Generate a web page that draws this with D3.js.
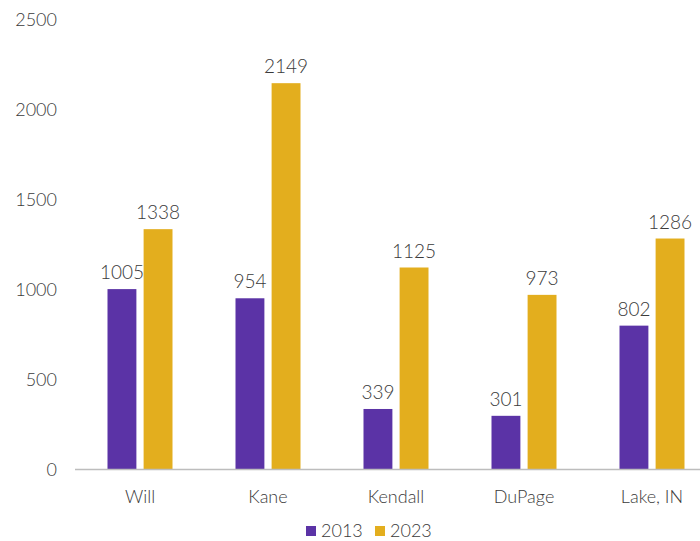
<!DOCTYPE html>
<html>
<head>
<meta charset="utf-8">
<script src="https://cdn.jsdelivr.net/npm/d3@7/dist/d3.min.js"></script>
<style>
  html, body { margin: 0; padding: 0; background: #fff; }
  svg text { font-family: Lato, "Open Sans", sans-serif; font-weight: 300; fill: #3a3a3a; }
</style>
</head>
<body>
<svg id="chart" width="700" height="541"></svg>
<script>
const categories = ["Will", "Kane", "Kendall", "DuPage", "Lake, IN"];
const seriesNames = ["2013", "2023"];
const values2013 = [1005, 954, 339, 301, 802];
const values2023 = [1338, 2149, 1125, 973, 1286];
const yTicks = [0, 500, 1000, 1500, 2000, 2500];
const colors = ["#5b33a6", "#e3ae1e"];

const svg = d3.select("#chart");
const margin = { left: 76, right: -16, top: 20, bottom: 71 };
const W = 700, H = 541;

const x = d3.scaleBand().domain(categories).range([margin.left, W - margin.right]).paddingInner(0).paddingOuter(0);
const x1 = d3.scaleBand().domain(seriesNames).range([0, 65]).paddingInner(0.2);
const y = d3.scaleLinear().domain([0, 2500]).range([H - margin.bottom, margin.top]);

// y-axis labels (no line, no ticks)
svg.append("g").selectAll("text").data(yTicks).join("text")
  .attr("x", 57).attr("y", d => y(d)).attr("dy", "0.35em")
  .attr("text-anchor", "end").attr("font-size", 18).text(d => d);

// bars
const rows = categories.map((c, i) => ({ c, vals: [values2013[i], values2023[i]] }));
const groups = svg.append("g").selectAll("g").data(rows).join("g")
  .attr("transform", d => `translate(${x(d.c) + x.bandwidth() / 2 - 32.5},0)`);

groups.selectAll("rect").data(d => d.vals.map((v, k) => ({ s: seriesNames[k], v, k })))
  .join("rect")
  .attr("x", d => x1(d.s)).attr("width", x1.bandwidth())
  .attr("y", d => y(d.v)).attr("height", d => y(0) - y(d.v))
  .attr("fill", d => colors[d.k]);

groups.selectAll("text.val").data(d => d.vals.map((v, k) => ({ s: seriesNames[k], v, k })))
  .join("text").attr("class", "val")
  .attr("x", d => x1(d.s) + x1.bandwidth() / 2).attr("y", d => y(d.v) - 10)
  .attr("text-anchor", "middle").attr("font-size", 19).text(d => d.v);

// baseline
svg.append("line").attr("x1", 75).attr("x2", W).attr("y1", y(0) - 0.5).attr("y2", y(0) - 0.5)
  .attr("stroke", "#bdbdbd").attr("stroke-width", 1.5);

// category labels
svg.append("g").selectAll("text").data(categories).join("text")
  .attr("x", d => x(d) + x.bandwidth() / 2).attr("y", 497).attr("dy", "0.35em")
  .attr("text-anchor", "middle").attr("font-size", 18).text(d => d);

// legend
const legend = svg.append("g").attr("transform", "translate(306,531)");
const lx = [0, 69];
seriesNames.forEach((s, k) => {
  legend.append("rect").attr("x", lx[k]).attr("y", -5).attr("width", 10).attr("height", 10).attr("fill", colors[k]);
  legend.append("text").attr("x", lx[k] + 15).attr("y", 0).attr("dy", "0.35em").attr("font-size", 18).text(s);
});
</script>
</body>
</html>
